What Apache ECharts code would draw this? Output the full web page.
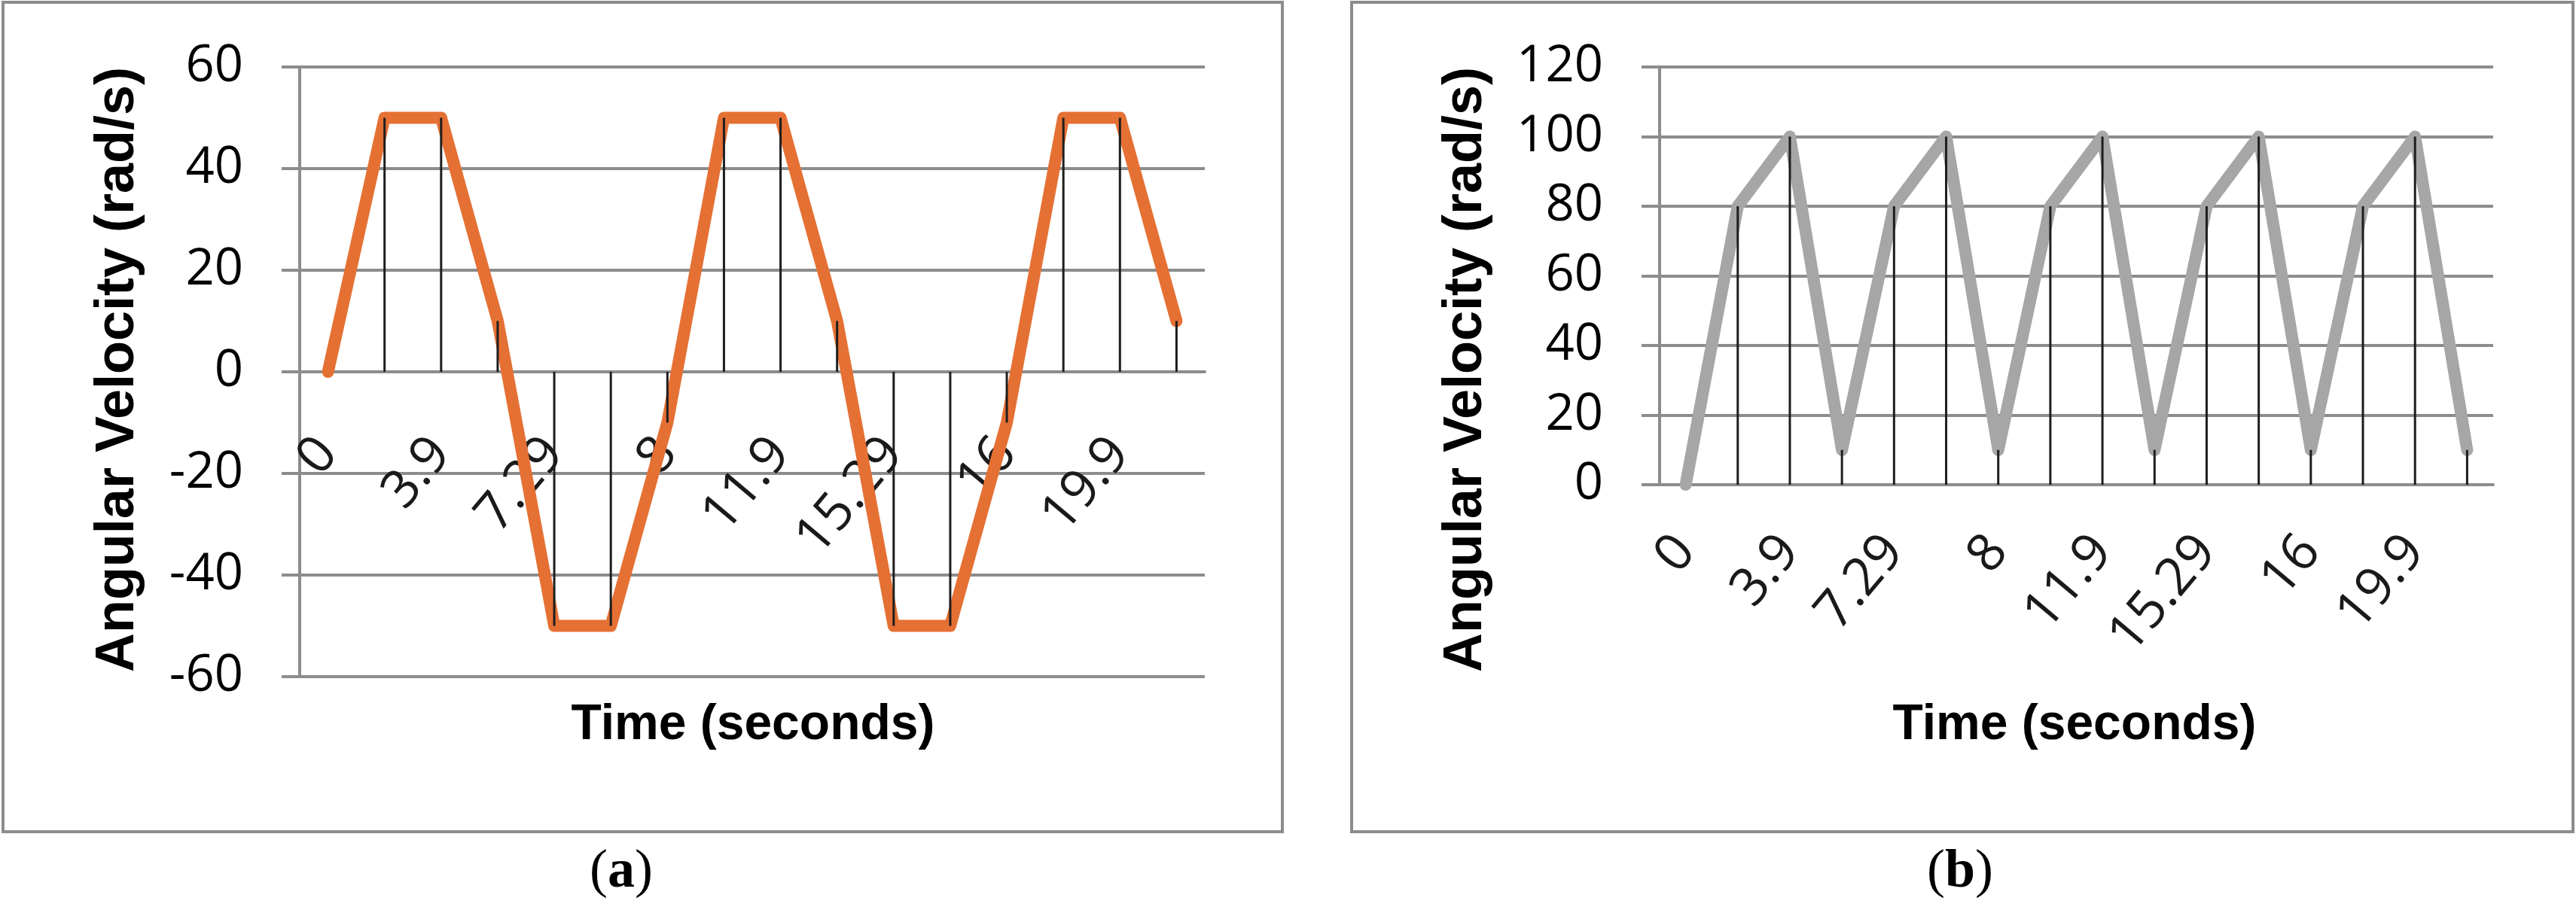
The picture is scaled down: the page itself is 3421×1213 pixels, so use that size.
<!DOCTYPE html>
<html>
<head>
<meta charset="utf-8">
<script src="https://cdn.jsdelivr.net/npm/echarts@6/dist/echarts.min.js"></script>
<style>
  html, body { margin: 0; padding: 0; background: #fff; }
  #main { width: 3421px; height: 1213px; }
</style>
</head>
<body>
<div id="main"></div>
<script>
// time labels, only every other one is printed
var timeLabels = ['0', '', '3.9', '', '7.29', '', '8', '', '11.9', '', '15.29', '', '16', '', '19.9', ''];
// (a) angular velocity
var velocityA = [0, 50, 50, 10, -50, -50, -10, 50, 50, 10, -50, -50, -10, 50, 50, 10];
// (b) angular velocity
var velocityB = [0, 80, 100, 10, 80, 100, 10, 80, 100, 10, 80, 100, 10, 80, 100, 10];
var yTicksA = [-60, 60, 20];
var yTicksB = [0, 120, 20];

var gridGray = '#8c8c8c';
var tickFont = "'Open Sans', 'Liberation Sans', sans-serif";
var boldFont = "'Liberation Sans', Arial, sans-serif";

var myChart = echarts.init(document.getElementById('main'));

// offset: moves the category axis (line + labels) up to the zero line
function xAxisOf(idx, margin, offset) {
    return {
        gridIndex: idx,
        type: 'category',
        data: timeLabels,
        offset: offset,
        axisLine: { onZero: false, lineStyle: { color: gridGray, width: 4 } },
        axisTick: { show: false },
        splitLine: { show: false },
        axisLabel: {
            interval: 1,
            rotate: 50,
            margin: margin,
            fontFamily: tickFont,
            fontSize: 70,
            color: '#1a1a1a'
        }
    };
}

function yAxisOf(idx, ticks) {
    return {
        gridIndex: idx,
        type: 'value',
        min: ticks[0],
        max: ticks[1],
        interval: ticks[2],
        axisLine: { show: true, onZero: false, lineStyle: { color: gridGray, width: 4 } },
        axisTick: { show: true, length: 24, lineStyle: { color: gridGray, width: 4 } },
        splitLine: { show: true, lineStyle: { color: gridGray, width: 4 } },
        axisLabel: {
            margin: 75,
            fontFamily: tickFont,
            fontSize: 67,
            color: '#000'
        }
    };
}

var option = {
    animation: false,
    backgroundColor: '#fff',
    grid: [
        { left: 398, top: 89, width: 1202, height: 810 },
        { left: 2204, top: 89, width: 1107, height: 555 }
    ],
    xAxis: [xAxisOf(0, 97, -405), xAxisOf(1, 77, 0)],
    yAxis: [yAxisOf(0, yTicksA), yAxisOf(1, yTicksB)],
    series: [
        {
            name: 'a',
            type: 'line',
            xAxisIndex: 0,
            yAxisIndex: 0,
            data: velocityA,
            showSymbol: false,
            z: 2,
            lineStyle: { color: '#e57034', width: 16, cap: 'round', join: 'round' }
        },
        {
            // drop lines
            name: 'a-drop',
            type: 'bar',
            xAxisIndex: 0,
            yAxisIndex: 0,
            data: velocityA,
            barWidth: 3,
            z: 3,
            itemStyle: { color: '#1e1e1e' }
        },
        {
            name: 'b',
            type: 'line',
            xAxisIndex: 1,
            yAxisIndex: 1,
            data: velocityB,
            showSymbol: false,
            z: 2,
            lineStyle: { color: '#a6a6a6', width: 16, cap: 'round', join: 'round' }
        },
        {
            name: 'b-drop',
            type: 'bar',
            xAxisIndex: 1,
            yAxisIndex: 1,
            data: velocityB,
            barWidth: 3,
            z: 3,
            itemStyle: { color: '#1e1e1e' }
        }
    ],
    graphic: [
        // frames
        { type: 'rect', shape: { x: 4, y: 3, width: 1699, height: 1102 }, style: { fill: 'none', stroke: gridGray, lineWidth: 4 }, z: 0 },
        { type: 'rect', shape: { x: 1795, y: 3, width: 1622, height: 1102 }, style: { fill: 'none', stroke: gridGray, lineWidth: 4 }, z: 0 },
        // axis titles
        { type: 'text', x: 157, y: 491, rotation: Math.PI / 2, style: { text: 'Angular Velocity (rad/s)', font: 'bold 72px ' + boldFont, fill: '#000', align: 'center', verticalAlign: 'middle' } },
        { type: 'text', x: 1947, y: 491, rotation: Math.PI / 2, style: { text: 'Angular Velocity (rad/s)', font: 'bold 72px ' + boldFont, fill: '#000', align: 'center', verticalAlign: 'middle' } },
        { type: 'text', x: 1000, y: 964, style: { text: 'Time (seconds)', font: 'bold 66px ' + boldFont, fill: '#000', align: 'center', verticalAlign: 'middle' } },
        { type: 'text', x: 2755, y: 964, style: { text: 'Time (seconds)', font: 'bold 66px ' + boldFont, fill: '#000', align: 'center', verticalAlign: 'middle' } },
        // captions
        { type: 'text', x: 825, y: 1159, style: { text: '({b|a})', font: "72px 'Liberation Serif', serif", fill: '#000', align: 'center', verticalAlign: 'middle', rich: { b: { font: "bold 72px 'Liberation Serif', serif", fill: '#000' } } } },
        { type: 'text', x: 2603, y: 1159, style: { text: '({b|b})', font: "72px 'Liberation Serif', serif", fill: '#000', align: 'center', verticalAlign: 'middle', rich: { b: { font: "bold 72px 'Liberation Serif', serif", fill: '#000' } } } }
    ]
};
myChart.setOption(option);
</script>
</body>
</html>
